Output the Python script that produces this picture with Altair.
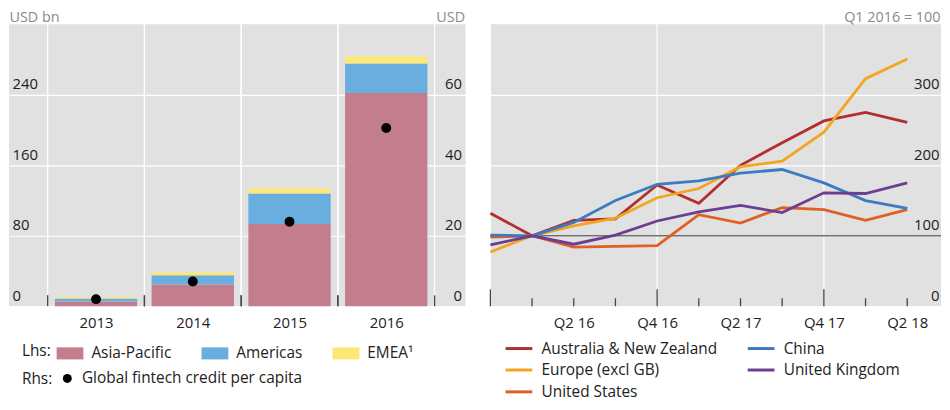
import json
import altair as alt
import pandas as pd

# ---------------- data ----------------
years = [2013, 2014, 2015, 2016]
regions = ["Asia-Pacific", "Americas", "EMEA¹"]
asia_pacific = [5.5, 24.8, 93.5, 242.0]
americas = [3.2, 10.5, 34.6, 33.5]
emea = [1.5, 3.4, 5.7, 8.2]
per_capita = [2.0, 7.0, 24.0, 50.6]
per_capita_label = "Global fintech credit per capita"
region_colors = ["#c47d8c", "#6aaee0", "#fde877"]

quarters = ["Q4 15", "Q1 16", "Q2 16", "Q3 16", "Q4 16", "Q1 17",
            "Q2 17", "Q3 17", "Q4 17", "Q1 18", "Q2 18"]
# legend is filled column by column (3 rows x 2 columns)
series_names = ["Australia & New Zealand", "Europe (excl GB)", "United States",
                "China", "United Kingdom"]
anz = [132, 100, 122, 124, 172, 146, 200, 232, 263, 275, 261]
europe = [77, 100, 114, 125, 154, 167, 198, 206, 247, 323, 351]
us = [98, 100, 84, 85, 86, 130, 118, 140, 137, 122, 137]
china = [101, 100, 119, 150, 173, 178, 189, 194, 175, 150, 139]
uk = [87, 100, 88, 101, 121, 134, 143, 133, 161, 160, 175]
series_colors = ["#b32e2e", "#f2a51f", "#e05f25", "#3c7bc1", "#6b3e91"]

FONT = "Open Sans"
W_LEFT, W_RIGHT, H = 460, 454, 284
BG = "#e1e1e1"

# ---------------- tables ----------------
bars_df = pd.DataFrame(
    [{"year": y, "region": r, "value": v}
     for r, vals in zip(regions, [asia_pacific, americas, emea])
     for y, v in zip(years, vals)]
)
years_df = pd.DataFrame({"year": years})
pc_df = pd.DataFrame({"year": years, "per_capita": per_capita,
                      "label": [per_capita_label] * len(years)})

lines_df = pd.DataFrame(
    [{"idx": i, "q": q, "series": s, "value": v}
     for s, vals in zip(series_names, [anz, europe, us, china, uk])
     for i, (q, v) in enumerate(zip(quarters, vals))]
)
q_df = pd.DataFrame({"idx": list(range(len(quarters))), "q": quarters})

LBL = dict(labelFontSize=15, labelColor="#222")
TTL = dict(titleColor="#8a8a8a", titleFontWeight="normal", titleFontSize=14.5,
           titleAngle=0, titleY=-3, titleBaseline="alphabetic")

# ---------------- left panel ----------------
xs_left = alt.Scale(domain=[2012.1, 2016.82], nice=False, zero=False)
x_axis_left = alt.Axis(values=years, format="d", grid=False, ticks=False, tickSize=0,
                       domain=False, labelPadding=9, title=None, **LBL)

bound_base = alt.Chart(years_df).transform_calculate(
    lo="datum.year - 0.5", hi="datum.year + 0.5"
).transform_fold(["lo", "hi"], as_=["k", "pos"])

vgrid_left = bound_base.mark_rule(color="white", strokeWidth=1.2).encode(
    x=alt.X("pos:Q", scale=xs_left, axis=x_axis_left)
)
ticks_left = bound_base.mark_rule(color="#444", strokeWidth=1.3).encode(
    x=alt.X("pos:Q", scale=xs_left, axis=x_axis_left),
    y=alt.value(H), y2=alt.value(H - 11)
)

bars = alt.Chart(bars_df).transform_calculate(
    rank=f"indexof({json.dumps(regions)}, datum.region)"
).transform_stack(
    stack="value", groupby=["year"], as_=["v0", "v1"],
    sort=[alt.SortField("rank", order="ascending")]
).transform_calculate(
    x0="datum.year - 0.4256", x1="datum.year + 0.4256"
).mark_bar(stroke=None).encode(
    x=alt.X("x0:Q", scale=xs_left, axis=x_axis_left),
    x2="x1:Q",
    y=alt.Y("v0:Q", scale=alt.Scale(domain=[0, 320], nice=False),
            axis=alt.Axis(orient="left", values=[0, 80, 160, 240], grid=True,
                          gridColor="white", gridWidth=1.2, ticks=False, tickSize=0,
                          domain=False, labelAlign="left", labelPadding=-3,
                          labelBaseline="alphabetic", labelOffset=-6,
                          title="USD bn", titleX=0, titleAlign="left", **LBL, **TTL)),
    y2="v1:Q",
    color=alt.Color("region:N",
                    scale=alt.Scale(domain=regions, range=region_colors),
                    legend=alt.Legend(title="Lhs:", orient="none", legendX=13, legendY=318,
                                      direction="horizontal", titleOrient="left",
                                      titlePadding=5, titleFontSize=15.5,
                                      titleFontWeight="normal", titleColor="#222",
                                      titleBaseline="middle",
                                      labelFontSize=15.5, labelColor="#222", labelLimit=0,
                                      symbolType="M-1,-0.45H1V0.45H-1Z",
                                      symbolSize=729, symbolStrokeWidth=0,
                                      symbolOpacity=1,
                                      labelOffset=8, columnPadding=30)),
)

dots = alt.Chart(pc_df).mark_point(filled=True, size=100, color="black", opacity=1).encode(
    x=alt.X("year:Q", scale=xs_left, axis=x_axis_left),
    y=alt.Y("per_capita:Q", scale=alt.Scale(domain=[0, 80], nice=False),
            axis=alt.Axis(orient="right", values=[0, 20, 40, 60], grid=False,
                          ticks=False, tickSize=0, domain=False, labelAlign="right",
                          labelPadding=-4, labelBaseline="alphabetic", labelOffset=-6,
                          title="USD", titleX=-1, titleAlign="right", **LBL, **TTL)),
    shape=alt.Shape("label:N", scale=alt.Scale(domain=[per_capita_label], range=["circle"]),
                    legend=alt.Legend(title="Rhs:", orient="none", legendX=13, legendY=349,
                                      direction="horizontal", titleOrient="left",
                                      titlePadding=7, titleFontSize=15.5,
                                      titleFontWeight="normal", titleColor="#222",
                                      titleBaseline="middle",
                                      labelFontSize=15.5, labelColor="#222", labelLimit=0,
                                      symbolType="circle", symbolSize=81,
                                      symbolFillColor="black", symbolStrokeWidth=0,
                                      labelOffset=7)),
)

left = alt.layer(vgrid_left, bars, dots, ticks_left).resolve_scale(
    y="independent"
).properties(width=W_LEFT, height=H)

# ---------------- right panel ----------------
xs_right = alt.Scale(domain=[0, 10.81], nice=False, zero=False)
label_expr = f"{json.dumps(quarters)}[datum.value]"
x_axis_right = alt.Axis(values=[2, 4, 6, 8, 10], labelExpr=label_expr, grid=False,
                        ticks=False, tickSize=0, domain=False, labelPadding=9,
                        labelFlush=False, title=None, **LBL)
ys_right = alt.Scale(domain=[0, 400], nice=False)
y_axis_right = alt.Axis(orient="right", values=[0, 100, 200, 300], grid=True,
                        gridColor="white", gridWidth=1.2, ticks=False, tickSize=0,
                        domain=False, labelAlign="right", labelPadding=-2,
                        labelBaseline="alphabetic", labelOffset=-6,
                        title="Q1 2016 = 100", titleX=-1, titleAlign="right", **LBL, **TTL)

q_base = alt.Chart(q_df)
vgrid_right = q_base.transform_filter("indexof(datum.q, 'Q4') == 0").mark_rule(
    color="white", strokeWidth=1.2).encode(x=alt.X("idx:Q", scale=xs_right, axis=x_axis_right))
ticks_long = q_base.transform_filter("indexof(datum.q, 'Q4') == 0").mark_rule(
    color="#444", strokeWidth=1.3).encode(
    x=alt.X("idx:Q", scale=xs_right, axis=x_axis_right),
    y=alt.value(H), y2=alt.value(H - 17))
ticks_short = q_base.transform_filter("indexof(datum.q, 'Q4') != 0").mark_rule(
    color="#444", strokeWidth=1.3).encode(
    x=alt.X("idx:Q", scale=xs_right, axis=x_axis_right),
    y=alt.value(H), y2=alt.value(H - 8))
base_rule = alt.Chart(pd.DataFrame({"base": [100]})).mark_rule(
    color="#6f6f6f", strokeWidth=1.6).encode(
    y=alt.Y("base:Q", scale=ys_right, axis=y_axis_right))

lines = alt.Chart(lines_df).mark_line(strokeWidth=2.8).encode(
    x=alt.X("idx:Q", scale=xs_right, axis=x_axis_right),
    y=alt.Y("value:Q", scale=ys_right, axis=y_axis_right),
    color=alt.Color("series:N", scale=alt.Scale(domain=series_names, range=series_colors),
                    legend=alt.Legend(title=None, orient="none", legendX=21, legendY=318.5,
                                      columns=2, columnPadding=24, rowPadding=5,
                                      labelFontSize=15.5, labelColor="#222", labelLimit=0,
                                      symbolType="M-2.25,0H2.25", symbolSize=144,
                                      symbolStrokeWidth=3, labelOffset=15)),
)

right = alt.layer(vgrid_right, base_rule, lines, ticks_long, ticks_short).properties(
    width=W_RIGHT, height=H)

chart = alt.hconcat(left, right, spacing=19).resolve_scale(
    color="independent"
).properties(
    padding={"left": 1, "top": 0, "right": 0, "bottom": 0}
).configure(font=FONT).configure_view(fill=BG, stroke=None)

chart.save("out.html", embed_options={"renderer": "svg", "actions": False})
